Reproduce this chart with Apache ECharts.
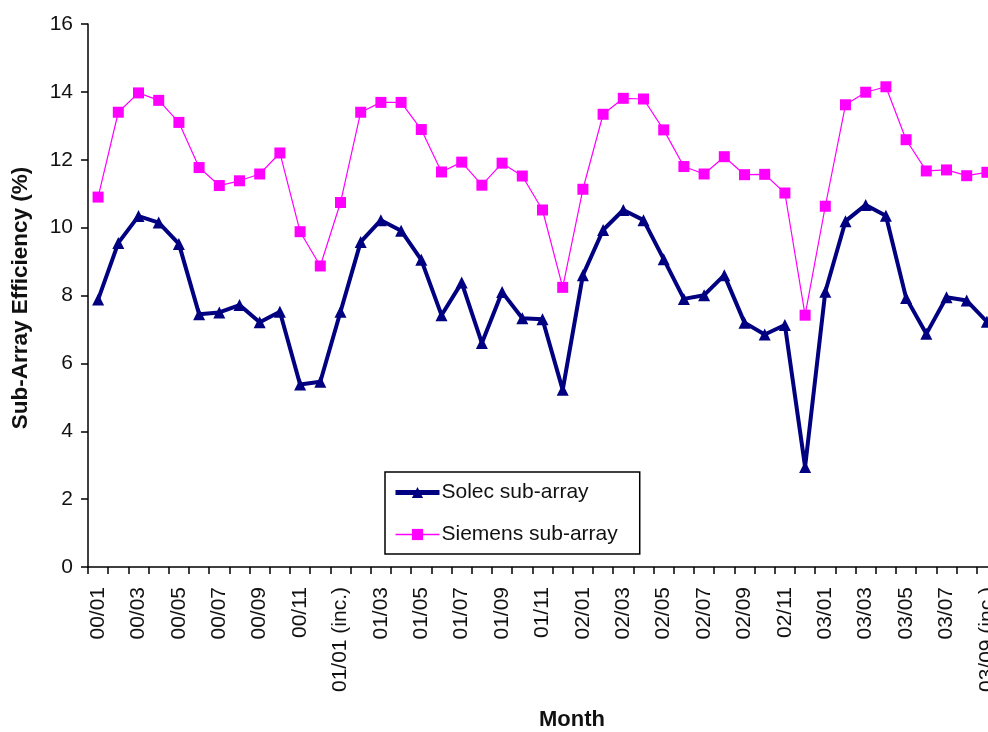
<!DOCTYPE html>
<html>
<head>
<meta charset="utf-8">
<script src="https://cdn.jsdelivr.net/npm/echarts@6/dist/echarts.min.js"></script>
<style>
  html, body { margin: 0; padding: 0; background: #fff; }
  #chart { width: 988px; height: 732px; }
</style>
</head>
<body>
<div id="chart"></div>
<script>
// Monthly categories, Jan 2000 through Sep 2003
const months = [
  '00/01', '00/02', '00/03', '00/04', '00/05', '00/06', '00/07', '00/08', '00/09', '00/10', '00/11', '00/12',
  '01/01 (inc.)', '01/02', '01/03', '01/04', '01/05', '01/06', '01/07', '01/08', '01/09', '01/10', '01/11', '01/12',
  '02/01', '02/02', '02/03', '02/04', '02/05', '02/06', '02/07', '02/08', '02/09', '02/10', '02/11', '02/12',
  '03/01', '03/02', '03/03', '03/04', '03/05', '03/06', '03/07', '03/08', '03/09 (inc.)'
];

// Sub-array efficiency (%)
const solec = [
  7.88, 9.55, 10.34, 10.15, 9.52, 7.45, 7.50, 7.72, 7.21, 7.52, 5.38, 5.46,
  7.52, 9.58, 10.22, 9.91, 9.05, 7.42, 8.38, 6.60, 8.10, 7.33, 7.30, 5.22,
  8.60, 9.93, 10.52, 10.22, 9.07, 7.90, 8.01, 8.60, 7.20, 6.85, 7.13, 2.95,
  8.11, 10.19, 10.67, 10.35, 7.93, 6.87, 7.95, 7.85, 7.23
];
const siemens = [
  10.90, 13.40, 13.97, 13.75, 13.10, 11.77, 11.24, 11.38, 11.58, 12.20, 9.88, 8.87,
  10.74, 13.40, 13.69, 13.69, 12.89, 11.64, 11.93, 11.25, 11.90, 11.52, 10.52, 8.24,
  11.13, 13.34, 13.81, 13.79, 12.88, 11.80, 11.58, 12.09, 11.56, 11.57, 11.02, 7.42,
  10.63, 13.62, 13.99, 14.15, 12.59, 11.67, 11.70, 11.53, 11.63
];

const seriesNames = ['Solec sub-array', 'Siemens sub-array'];
const yTitle = 'Sub-Array Efficiency (%)';
const xTitle = 'Month';

const FONT = '"Liberation Sans", Arial, sans-serif';
const INK = '#111';
const NAVY = '#000080';
const MAGENTA = '#ff00ff';

const chart = echarts.init(document.getElementById('chart'), null, { renderer: 'canvas' });

chart.setOption({
  animation: false,
  backgroundColor: '#fff',
  textStyle: { fontFamily: FONT },
  grid: {
    left: 88,
    top: 24,
    width: 909,
    height: 543,
    outerBoundsMode: 'none',
    containLabel: false
  },
  legend: {
    orient: 'vertical',
    left: 385,
    top: 472,
    padding: [10, 22, 9, 8],
    itemGap: 21,
    itemWidth: 44,
    itemHeight: 14,
    borderColor: '#000',
    borderWidth: 1.5,
    backgroundColor: '#fff',
    textStyle: { fontFamily: FONT, fontSize: 21, color: INK, padding: [0, 0, 0, -3] },
    data: [
      { name: seriesNames[0], lineStyle: { width: 5, color: NAVY }, itemStyle: { color: NAVY } },
      { name: seriesNames[1], lineStyle: { width: 1.5, color: MAGENTA }, itemStyle: { color: MAGENTA } }
    ]
  },
  xAxis: {
    type: 'category',
    data: months,
    boundaryGap: true,
    axisLine: { lineStyle: { color: '#000', width: 1.5 } },
    axisTick: { show: true, interval: 0, length: 7, lineStyle: { color: '#000', width: 1.5 } },
    axisLabel: {
      interval: 1,
      rotate: 90,
      margin: 20,
      fontFamily: FONT,
      fontSize: 21,
      color: INK
    },
    splitLine: { show: false }
  },
  yAxis: {
    type: 'value',
    min: 0,
    max: 16,
    interval: 2,
    axisLine: { show: true, lineStyle: { color: '#000', width: 1.5 } },
    axisTick: { show: true, length: 7, lineStyle: { color: '#000', width: 1.5 } },
    axisLabel: { margin: 15, fontFamily: FONT, fontSize: 21, color: INK },
    splitLine: { show: false }
  },
  graphic: [
    {
      type: 'text',
      x: 21,
      y: 298,
      rotation: Math.PI / 2,
      style: {
        text: yTitle,
        fontFamily: FONT,
        fontSize: 22.5,
        fontWeight: 'bold',
        fill: INK,
        align: 'center',
        verticalAlign: 'middle'
      }
    },
    {
      type: 'text',
      x: 572,
      y: 720,
      style: {
        text: xTitle,
        fontFamily: FONT,
        fontSize: 22,
        fontWeight: 'bold',
        fill: INK,
        align: 'center',
        verticalAlign: 'middle'
      }
    }
  ],
  series: [
    {
      name: seriesNames[0],
      type: 'line',
      data: solec,
      symbol: 'triangle',
      symbolSize: 12,
      color: NAVY,
      itemStyle: { color: NAVY },
      lineStyle: { color: NAVY, width: 4 },
      z: 3
    },
    {
      name: seriesNames[1],
      type: 'line',
      data: siemens,
      symbol: 'rect',
      symbolSize: 11,
      color: MAGENTA,
      itemStyle: { color: MAGENTA },
      lineStyle: { color: MAGENTA, width: 1.2 },
      z: 2
    }
  ]
});
</script>
</body>
</html>
